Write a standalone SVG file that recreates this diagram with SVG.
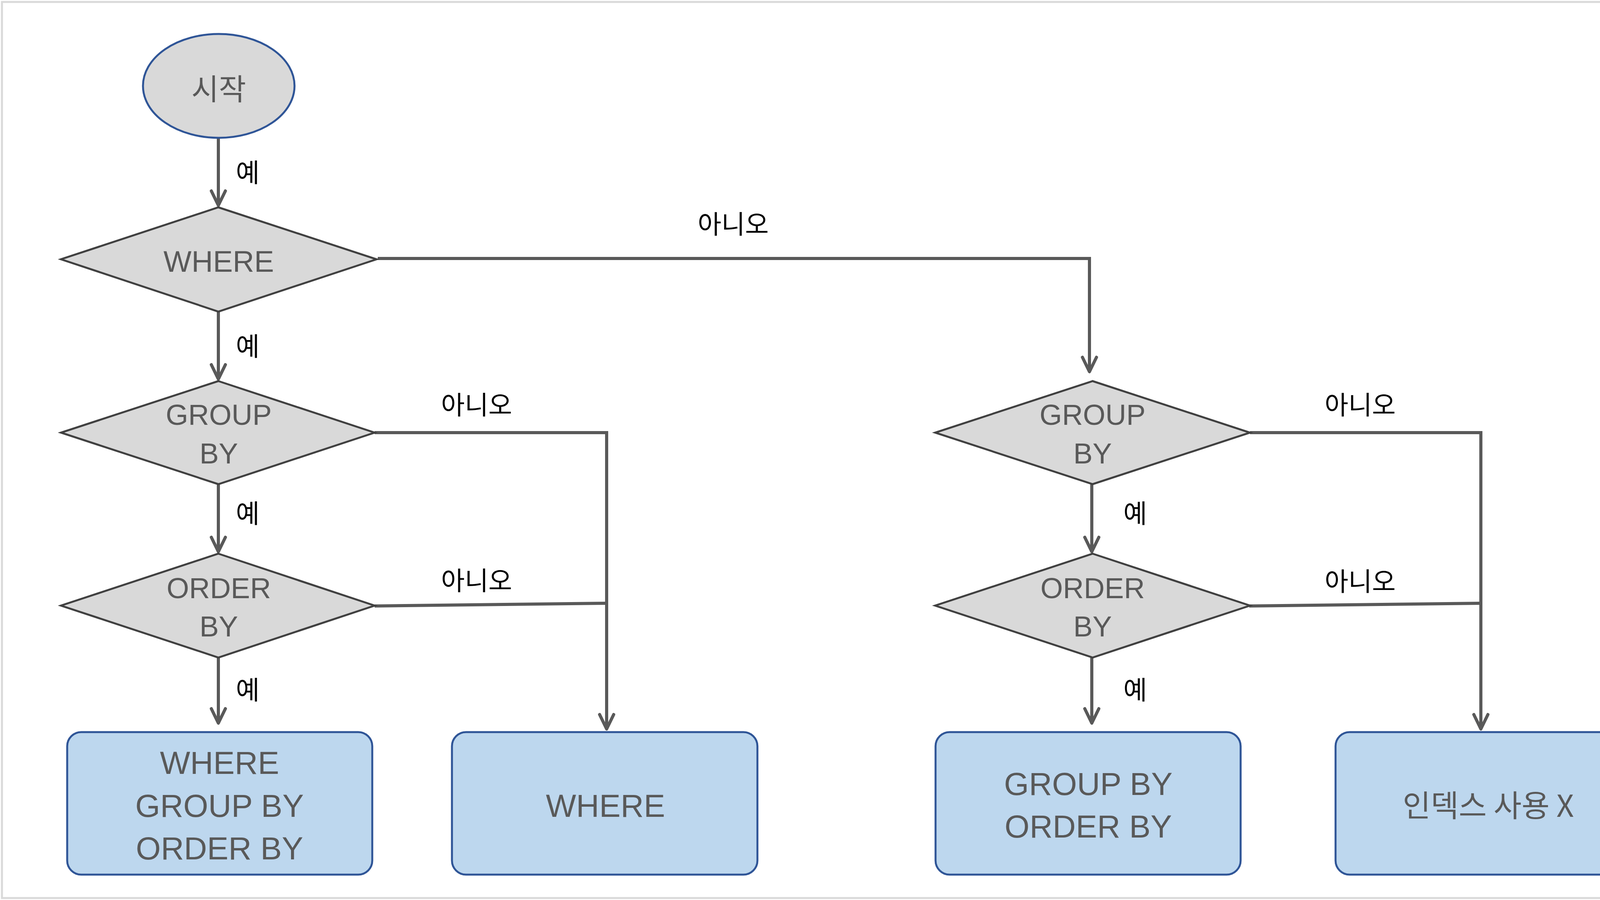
<svg xmlns="http://www.w3.org/2000/svg" width="4345" height="2305" viewBox="0 0 4345 2305">
<defs>
<style>
.dia{fill:#D9D9D9;stroke:#404040;stroke-width:5;stroke-linejoin:miter}
.box{fill:#BDD7EE;stroke:#2F5597;stroke-width:5}
.term{fill:#D9D9D9;stroke:#2F5597;stroke-width:5}
.nt{font-family:"Liberation Sans","Noto Sans CJK KR",sans-serif;fill:#595959;text-anchor:middle}
.kt{font-family:"Noto Sans CJK KR","Liberation Sans",sans-serif;fill:#595959;text-anchor:middle}
.lbl{font-family:"Noto Sans CJK KR",sans-serif;font-size:66px;fill:#000000;text-anchor:middle}
.con{fill:none;stroke:#595959;stroke-width:8;stroke-linejoin:miter}
</style>
<marker id="arr" markerUnits="userSpaceOnUse" markerWidth="60" markerHeight="60" refX="0" refY="0" orient="auto" overflow="visible" viewBox="-50 -30 60 60">
<path d="M -37 -18 L 0 0 L -37 18" fill="none" stroke="#595959" stroke-width="8" stroke-linecap="round" stroke-linejoin="round"/>
</marker>
</defs>
<rect x="0" y="0" width="4345" height="2305" fill="#FFFFFF"/>
<rect x="5" y="5" width="4335" height="2295" fill="#FFFFFF" stroke="#D9D9D9" stroke-width="5"/>

<g id="connectors">
<path class="con" d="M 559 353 L 559 526" marker-end="url(#arr)"/>
<path class="con" d="M 559 798 L 559 971" marker-end="url(#arr)"/>
<path class="con" d="M 559 1240 L 559 1413" marker-end="url(#arr)"/>
<path class="con" d="M 559 1684 L 559 1852" marker-end="url(#arr)"/>
<path class="con" d="M 967 662 L 2789 662 L 2789 952" marker-end="url(#arr)"/>
<path class="con" d="M 959 1108 L 1553 1108 L 1553 1867" marker-end="url(#arr)"/>
<path class="con" d="M 959 1552 L 1553 1545"/>
<path class="con" d="M 2795 1240 L 2795 1413" marker-end="url(#arr)"/>
<path class="con" d="M 2795 1684 L 2795 1852" marker-end="url(#arr)"/>
<path class="con" d="M 3200 1108 L 3791 1108 L 3791 1867" marker-end="url(#arr)"/>
<path class="con" d="M 3198 1552 L 3791 1545"/>
<text class="lbl" x="634" y="466">예</text>
<text class="lbl" x="634" y="911">예</text>
<text class="lbl" x="634" y="1339">예</text>
<text class="lbl" x="634" y="1791">예</text>
<text class="lbl" x="2906" y="1339">예</text>
<text class="lbl" x="2906" y="1791">예</text>
<text class="lbl" x="1877" y="598">아니오</text>
<text class="lbl" x="1220" y="1061">아니오</text>
<text class="lbl" x="1220" y="1511">아니오</text>
<text class="lbl" x="3482" y="1061">아니오</text>
<text class="lbl" x="3482" y="1513">아니오</text>
</g>

<g id="start">
<ellipse class="term" cx="560" cy="220" rx="194" ry="133"/>
<text class="kt" x="560" y="256" font-size="76">시작</text>
</g>

<g id="where">
<polygon class="dia" points="559,531 964,664 559,798 156,664"/>
<text class="nt" x="560" y="696" font-size="76">WHERE</text>
</g>

<g id="groupby-left">
<polygon class="dia" points="559,976 959,1108 559,1240 156,1108"/>
<text class="nt" x="560" y="1088" font-size="74">GROUP</text>
<text class="nt" x="560" y="1187" font-size="74">BY</text>
</g>

<g id="orderby-left">
<polygon class="dia" points="559,1418 959,1551 559,1684 156,1551"/>
<text class="nt" x="560" y="1532" font-size="74">ORDER</text>
<text class="nt" x="560" y="1630" font-size="74">BY</text>
</g>

<g id="groupby-right">
<polygon class="dia" points="2797,976 3200,1108 2797,1240 2394,1108"/>
<text class="nt" x="2797" y="1088" font-size="74">GROUP</text>
<text class="nt" x="2797" y="1187" font-size="74">BY</text>
</g>

<g id="orderby-right">
<polygon class="dia" points="2797,1418 3200,1551 2797,1684 2394,1551"/>
<text class="nt" x="2797" y="1532" font-size="74">ORDER</text>
<text class="nt" x="2797" y="1630" font-size="74">BY</text>
</g>

<g id="result-all">
<rect class="box" x="172" y="1875" width="781" height="365" rx="36" ry="36"/>
<text class="nt" x="562" y="1982" font-size="82">WHERE</text>
<text class="nt" x="562" y="2092" font-size="82">GROUP BY</text>
<text class="nt" x="562" y="2201" font-size="82">ORDER BY</text>
</g>

<g id="result-where">
<rect class="box" x="1157" y="1875" width="782" height="365" rx="36" ry="36"/>
<text class="nt" x="1550" y="2092" font-size="82">WHERE</text>
</g>

<g id="result-group-order">
<rect class="box" x="2395" y="1875" width="781" height="365" rx="36" ry="36"/>
<text class="nt" x="2786" y="2036" font-size="82">GROUP BY</text>
<text class="nt" x="2786" y="2145" font-size="82">ORDER BY</text>
</g>

<g id="result-none">
<rect class="box" x="3419" y="1875" width="783" height="365" rx="36" ry="36"/>
<text class="kt" x="3810" y="2092" font-size="78">인덱스 사용 X</text>
</g>
</svg>
